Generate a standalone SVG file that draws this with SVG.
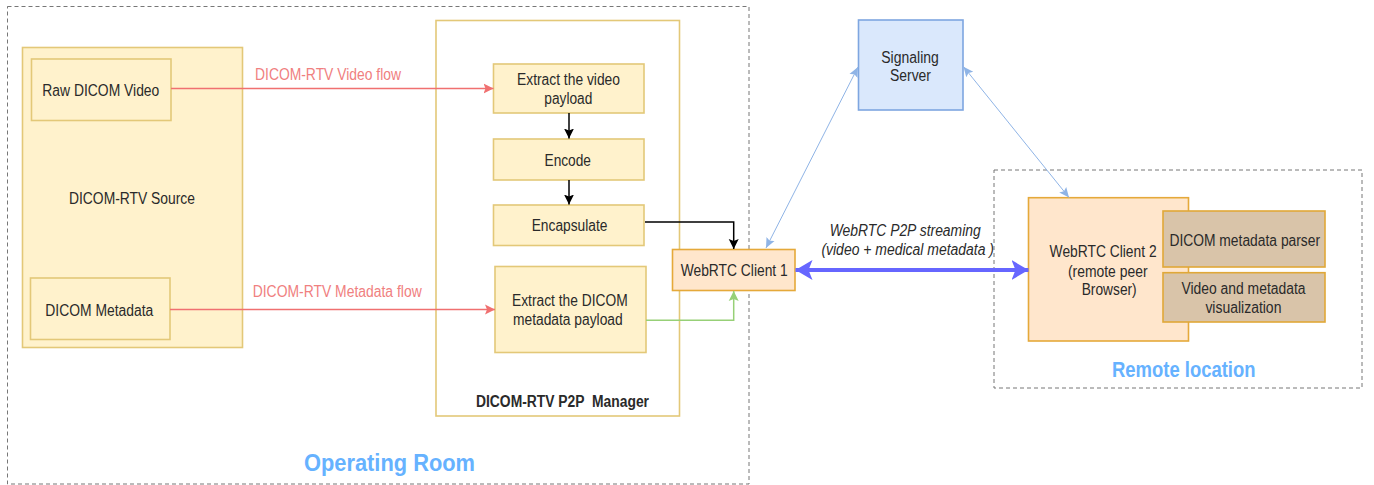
<svg xmlns="http://www.w3.org/2000/svg" width="1374" height="485" viewBox="0 0 1374 485">
<style>
text{font-family:"Liberation Sans",Arial,sans-serif;font-size:16px;fill:#2a2a2a;white-space:pre}
.lab{fill:#f08080}
.big{font-weight:bold;font-size:24px;fill:#66b2ff}
.y{fill:#fff2cc;stroke:#e3c878;stroke-width:1.6}
.o{fill:#ffe6cc;stroke:#e5a93a;stroke-width:1.6}
.b{fill:#d9c4a9;stroke:#e0a838;stroke-width:1.6}
.d{fill:none;stroke:#777;stroke-width:1;stroke-dasharray:4 3}
</style>
<defs>
<marker id="r" markerUnits="userSpaceOnUse" markerWidth="12" markerHeight="12" refX="10" refY="6" orient="auto"><path d="M0 1L10 6L0 11L2 6Z" fill="#f07070"/></marker>
<marker id="k" markerUnits="userSpaceOnUse" markerWidth="12" markerHeight="12" refX="10" refY="6" orient="auto"><path d="M0 1L10 6L0 11L2 6Z" fill="#000"/></marker>
<marker id="g" markerUnits="userSpaceOnUse" markerWidth="12" markerHeight="12" refX="10" refY="6" orient="auto"><path d="M0 1L10 6L0 11L2 6Z" fill="#97d077"/></marker>
<marker id="l" markerUnits="userSpaceOnUse" markerWidth="12" markerHeight="12" refX="10" refY="6" orient="auto-start-reverse"><path d="M0 1.5L10 6L0 10.5L2 6Z" fill="#8fb4e6"/></marker>
<marker id="p" markerUnits="userSpaceOnUse" markerWidth="20" markerHeight="24" refX="17" refY="12" orient="auto-start-reverse"><path d="M0 2L17 12L0 22L4 12Z" fill="#6666ff"/></marker>
</defs>
<g id="operating-room"><rect class="d" x="7.5" y="6.5" width="741.5" height="477.5"/><text class="big" x="304" y="470.7" textLength="171" lengthAdjust="spacingAndGlyphs">Operating Room</text></g>
<g id="remote-location"><rect class="d" x="994" y="170" width="368" height="218"/><text class="big" x="1112" y="376.7" textLength="143.5" lengthAdjust="spacingAndGlyphs" style="font-size:22px">Remote location</text></g>
<g id="source"><rect class="y" x="22.5" y="47.5" width="220" height="300"/><text x="69" y="204" textLength="126" lengthAdjust="spacingAndGlyphs">DICOM-RTV Source</text></g>
<g id="raw-video"><rect class="y" x="31.5" y="59" width="139.5" height="61.5"/><text x="42.3" y="96" textLength="117" lengthAdjust="spacingAndGlyphs">Raw DICOM Video</text></g>
<g id="metadata"><rect class="y" x="30.5" y="278" width="139.5" height="61.5"/><text x="45.3" y="316" textLength="108" lengthAdjust="spacingAndGlyphs">DICOM Metadata</text></g>
<g id="manager"><rect x="436" y="20.5" width="243.5" height="395.5" fill="#fff" stroke="#e3c878" stroke-width="1.6"/><text x="476" y="406.7" textLength="173" lengthAdjust="spacingAndGlyphs" font-weight="bold">DICOM-RTV P2P  Manager</text></g>
<g id="extract-video"><rect class="y" x="493.5" y="64" width="150.5" height="49"/><text x="517" y="85.3" textLength="103" lengthAdjust="spacingAndGlyphs">Extract the video</text><text x="544.3" y="103.7" textLength="48" lengthAdjust="spacingAndGlyphs">payload</text></g>
<g id="encode"><rect class="y" x="493.5" y="139" width="150.5" height="41"/><text x="544.5" y="165.7" textLength="46.5" lengthAdjust="spacingAndGlyphs">Encode</text></g>
<g id="encapsulate"><rect class="y" x="493.5" y="205" width="150.5" height="40.5"/><text x="531.7" y="231.3" textLength="75.7" lengthAdjust="spacingAndGlyphs">Encapsulate</text></g>
<g id="extract-metadata"><rect class="y" x="495" y="266.5" width="151" height="86"/><text x="512" y="306.3" textLength="115.7" lengthAdjust="spacingAndGlyphs">Extract the DICOM</text><text x="513" y="325.3" textLength="109.7" lengthAdjust="spacingAndGlyphs">metadata payload</text></g>
<g id="client-1"><rect class="o" x="672.5" y="249.5" width="122.5" height="41"/><text x="680.7" y="276.3" textLength="107" lengthAdjust="spacingAndGlyphs">WebRTC Client 1</text></g>
<g id="signaling"><rect x="858.5" y="20" width="104.5" height="90" fill="#dae8fc" stroke="#7ea6e0" stroke-width="1.6"/><text x="881.3" y="62.7" textLength="57.5" lengthAdjust="spacingAndGlyphs">Signaling</text><text x="890" y="81" textLength="41" lengthAdjust="spacingAndGlyphs">Server</text></g>
<g id="client-2"><rect class="o" x="1028.5" y="197.7" width="160" height="143.3"/><text x="1049.6" y="257" textLength="107" lengthAdjust="spacingAndGlyphs">WebRTC Client 2</text><text x="1068" y="276.7" textLength="79.5" lengthAdjust="spacingAndGlyphs">(remote peer</text><text x="1081.7" y="295.3" textLength="55" lengthAdjust="spacingAndGlyphs">Browser)</text></g>
<g id="parser"><rect class="b" x="1163" y="211" width="162" height="56"/><text x="1169.4" y="246.3" textLength="150.7" lengthAdjust="spacingAndGlyphs">DICOM metadata parser</text></g>
<g id="visualization"><rect class="b" x="1163" y="272.7" width="162" height="49.3"/><text x="1181.5" y="294.3" textLength="124" lengthAdjust="spacingAndGlyphs">Video and metadata</text><text x="1205.4" y="313" textLength="76" lengthAdjust="spacingAndGlyphs">visualization</text></g>
<g id="connectors">
<path d="M171 88.5H493.5" stroke="#f07070" stroke-width="1.5" marker-end="url(#r)" fill="none"/>
<path d="M170 309.5H495" stroke="#f07070" stroke-width="1.5" marker-end="url(#r)" fill="none"/>
<path d="M569 113V138.5" stroke="#000" stroke-width="1.5" marker-end="url(#k)" fill="none"/>
<path d="M569 180V204.5" stroke="#000" stroke-width="1.5" marker-end="url(#k)" fill="none"/>
<path d="M645 222H733.7V249" stroke="#000" stroke-width="1.5" marker-end="url(#k)" fill="none"/>
<path d="M646 320.3H733.7V291" stroke="#97d077" stroke-width="1.5" marker-end="url(#g)" fill="none"/>
<path d="M766 248L858 67" stroke="#8fb4e6" stroke-width="1" marker-start="url(#l)" marker-end="url(#l)" fill="none"/>
<path d="M963.5 66.7L1069 197.5" stroke="#8fb4e6" stroke-width="1" marker-start="url(#l)" marker-end="url(#l)" fill="none"/>
<path d="M795.5 270H1028.5" stroke="#6666ff" stroke-width="4" marker-start="url(#p)" marker-end="url(#p)" fill="none"/>
</g>
<g id="labels">
<text class="lab" x="255" y="80" textLength="146" lengthAdjust="spacingAndGlyphs">DICOM-RTV Video flow</text>
<text class="lab" x="252.7" y="297" textLength="169" lengthAdjust="spacingAndGlyphs">DICOM-RTV Metadata flow</text>
<text x="829.7" y="235.7" textLength="151" lengthAdjust="spacingAndGlyphs" font-style="italic">WebRTC P2P streaming</text>
<text x="821.4" y="255" textLength="172.6" lengthAdjust="spacingAndGlyphs" font-style="italic">(video + medical metadata )</text>
</g>
</svg>
